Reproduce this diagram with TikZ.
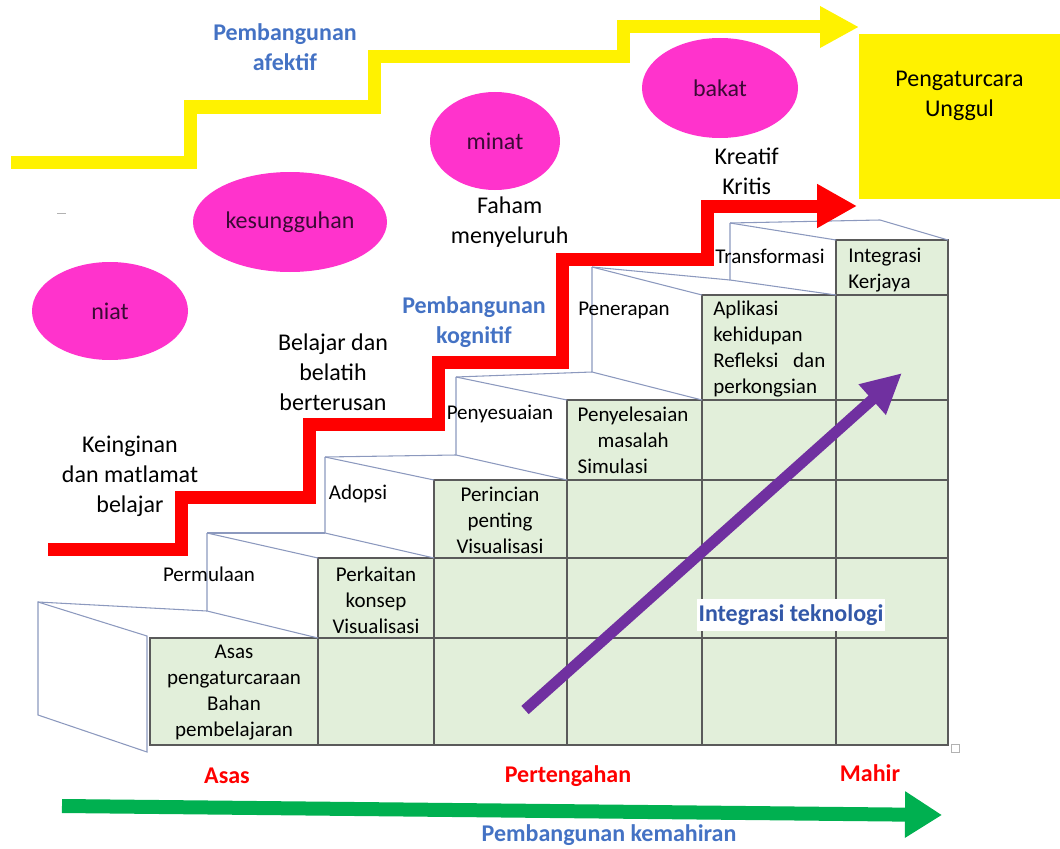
\documentclass[tikz,border=0pt]{standalone}
\usepackage{fontspec}
\setmainfont{Carlito}
\usepackage{tikz}
\usepackage{xcolor}
\usetikzlibrary{shapes.geometric, arrows.meta, positioning}

\definecolor{traitpink}{HTML}{FF33CC}
\definecolor{traittext}{HTML}{3B0A35}
\definecolor{cellgreen}{HTML}{E2EFDA}
\definecolor{gridgray}{HTML}{5A5A5A}
\definecolor{sideblue}{HTML}{8C99BE}
\definecolor{labelblue}{HTML}{4472C4}
\definecolor{techblue}{HTML}{3358A8}
\definecolor{skillgreen}{HTML}{00B050}
\definecolor{techpurple}{HTML}{7030A0}

\tikzstyle{trait} = [ellipse, fill=traitpink, text=traittext, inner sep=0pt, font=\fontsize{18}{22.5}\selectfont]
\tikzstyle{cell} = [align=center, inner sep=0pt, font=\fontsize{15.75}{19.5}\selectfont]
\tikzstyle{steplabel} = [inner sep=0pt, font=\fontsize{15.75}{19.5}\selectfont]
\tikzstyle{note} = [align=center, inner sep=0pt, font=\fontsize{18}{22.5}\selectfont]
\tikzstyle{heading} = [align=center, inner sep=0pt, text=labelblue, font=\bfseries\fontsize{18}{22.5}\selectfont]
\tikzstyle{level} = [inner sep=0pt, text=red, font=\bfseries\fontsize{18}{22.5}\selectfont]
\tikzstyle{goal} = [rectangle, fill=yellow, minimum width=150.75pt, minimum height=123.75pt]
\tikzstyle{gridline} = [draw=gridgray, line width=1.1pt]
\tikzstyle{sideline} = [draw=sideblue, line width=0.8pt]
\tikzstyle{yellowstair} = [draw=yellow, line width=9.75pt, line join=miter, -{Triangle[length=29.25pt, width=29.25pt]}]
\tikzstyle{redstair} = [draw=red, line width=9.75pt, line join=miter, -{Triangle[length=30pt, width=31pt]}]
\tikzstyle{greenarrow} = [draw=skillgreen, line width=10.5pt, -{Triangle[length=27.75pt, width=33pt]}]
\tikzstyle{purplearrow} = [draw=techpurple, line width=8.25pt, -{Triangle[length=30pt, width=28.5pt]}]

\begin{document}
\begin{tikzpicture}[x=0.75pt, y=-0.75pt]
  \useasboundingbox (0,0) rectangle (1060,849);

  % Green front faces of the steps
  \draw [gridline, fill=cellgreen] (150,745) -- (948,745) -- (948,240) -- (836,240) -- (836,295) -- (702,295) -- (702,400) -- (567,400) -- (567,480) -- (434,480) -- (434,558) -- (318,558) -- (318,638) -- (150,638) -- cycle;
  \draw [gridline] (318,638) -- (948,638);
  \draw [gridline] (434,558) -- (948,558);
  \draw [gridline] (567,480) -- (948,480);
  \draw [gridline] (702,400) -- (948,400);
  \draw [gridline] (836,295) -- (948,295);
  \draw [gridline] (318,638) -- (318,745);
  \draw [gridline] (434,558) -- (434,745);
  \draw [gridline] (567,480) -- (567,745);
  \draw [gridline] (702,400) -- (702,745);
  \draw [gridline] (836,295) -- (836,745);

  % Side faces of the steps
  \draw [sideline] (38,602) -- (38,715) -- (147,752) -- (147,636) -- cycle;
  \draw [sideline] (38,602) -- (207,611);
  \draw [sideline] (207,533) -- (207,611) -- (318,638);
  \draw [sideline] (207,533) -- (318,558);
  \draw [sideline] (207,533) -- (325,533);
  \draw [sideline] (325,457) -- (325,533) -- (434,558);
  \draw [sideline] (325,457) -- (434,480);
  \draw [sideline] (325,457) -- (456,455);
  \draw [sideline] (456,377) -- (456,455) -- (567,480);
  \draw [sideline] (456,377) -- (567,400);
  \draw [sideline] (456,377) -- (592,372);
  \draw [sideline] (592,267) -- (592,372) -- (702,400);
  \draw [sideline] (592,267) -- (702,295);
  \draw [sideline] (592,267) -- (730,280);
  \draw [sideline] (730,223) -- (730,280) -- (836,295);
  \draw [sideline] (730,223) -- (836,240);
  \draw [sideline] (730,223) -- (880,220) -- (948,240);
  \draw [draw=gray!60] (951,744) rectangle (959,752);
  \draw [draw=gray!60] (57,213) -- (66,213);

  % Texts on the steps
  \node (asas) [cell] at (234,693) {Asas\\pengaturcaraan\\Bahan\\pembelajaran};
  \node (perkaitan) [cell] at (376,600) {Perkaitan\\konsep\\Visualisasi};
  \node (perincian) [cell] at (500,520) {Perincian\\penting\\Visualisasi};
  \node (penyelesaian) [cell, align=left] at (633,440) {Penyelesaian\\\hspace*{15pt}masalah\\Simulasi};
  \node (aplikasi) [cell, align=left, anchor=west] at (713,349) {Aplikasi\\kehidupan\\Refleksi\hspace{11pt}dan\\perkongsian};
  \node (kerjaya) [cell, align=left, anchor=west] at (848,270) {Integrasi\\Kerjaya};

  \node (permulaan) [steplabel] at (209,574) {Permulaan};
  \node (adopsi) [steplabel] at (358,494) {Adopsi};
  \node (penyesuaian) [steplabel] at (500,414) {Penyesuaian};
  \node (penerapan) [steplabel] at (624,310) {Penerapan};
  \node (transformasi) [steplabel] at (770,256) {Transformasi};

  % Affective traits
  \node (niat) [trait, minimum width=117pt, minimum height=73.5pt] at (110,311) {niat};
  \node (kesungguhan) [trait, minimum width=145.5pt, minimum height=75pt] at (290,222) {kesungguhan};
  \node (minat) [trait, minimum width=97.5pt, minimum height=73.5pt] at (495,141) {minat};
  \node (bakat) [trait, minimum width=117pt, minimum height=75pt] at (720,88) {bakat};

  % Cognitive notes
  \node (keinginan) [note] at (130,476) {Keinginan\\dan matlamat\\belajar};
  \node (belajar) [note] at (333,372) {Belajar dan\\belatih\\berterusan};
  \node (faham) [note, below=4.5pt of minat, xshift=11pt] {Faham\\menyeluruh};
  \node (kreatif) [note, below=7pt of bakat, xshift=20pt] {Kreatif\\Kritis};

  % Goal
  \node (goal) [goal] at (959.5,116.5) {};
  \node (goaltext) [note, below=28pt of goal.north] {Pengaturcara\\Unggul};

  % Afective stair
  \coordinate (afStart) at (11,162);
  \coordinate (afEnd) at (859,27);
  \draw [yellowstair] (afStart) -- ++(179,0) -- ++(0,-55) -- ++(184,0) -- ++(0,-50) -- ++(249,0) -- ++(0,-30) -- (afEnd);

  % Cognitive stair
  \coordinate (kogStart) at (48,549);
  \coordinate (kogEnd) at (857,206);
  \draw [redstair] (kogStart) -- ++(133,0) -- ++(0,-52) -- ++(128,0) -- ++(0,-73) -- ++(129,0) -- ++(0,-62) -- ++(124,0) -- ++(0,-103) -- ++(145,0) -- ++(0,-53) -- (kogEnd);

  % Skill and technology arrows
  \coordinate (kemStart) at (62,806);
  \coordinate (kemEnd) at (942,815);
  \draw [greenarrow] (kemStart) -- (kemEnd);
  \coordinate (tekStart) at (525,710);
  \coordinate (tekEnd) at (902,373);
  \draw [purplearrow] (tekStart) -- (tekEnd);

  % Headings and levels
  \node (afektif) [heading] at (285,47) {Pembangunan\\afektif};
  \node (kognitif) [heading] at (474,322) {Pembangunan\\kognitif};
  \node (kemahiran) [heading] at (609,835) {Pembangunan kemahiran};
  \node (teknologi) [heading, text=techblue, fill=white, inner xsep=1.5pt, inner ysep=4.5pt] at (791,615) {Integrasi teknologi};
  \node (asaslevel) [level] at (227,776) {Asas};
  \node (pertengahan) [level] at (568,776) {Pertengahan};
  \node (mahir) [level] at (870,773) {Mahir};

\end{tikzpicture}
\end{document}
